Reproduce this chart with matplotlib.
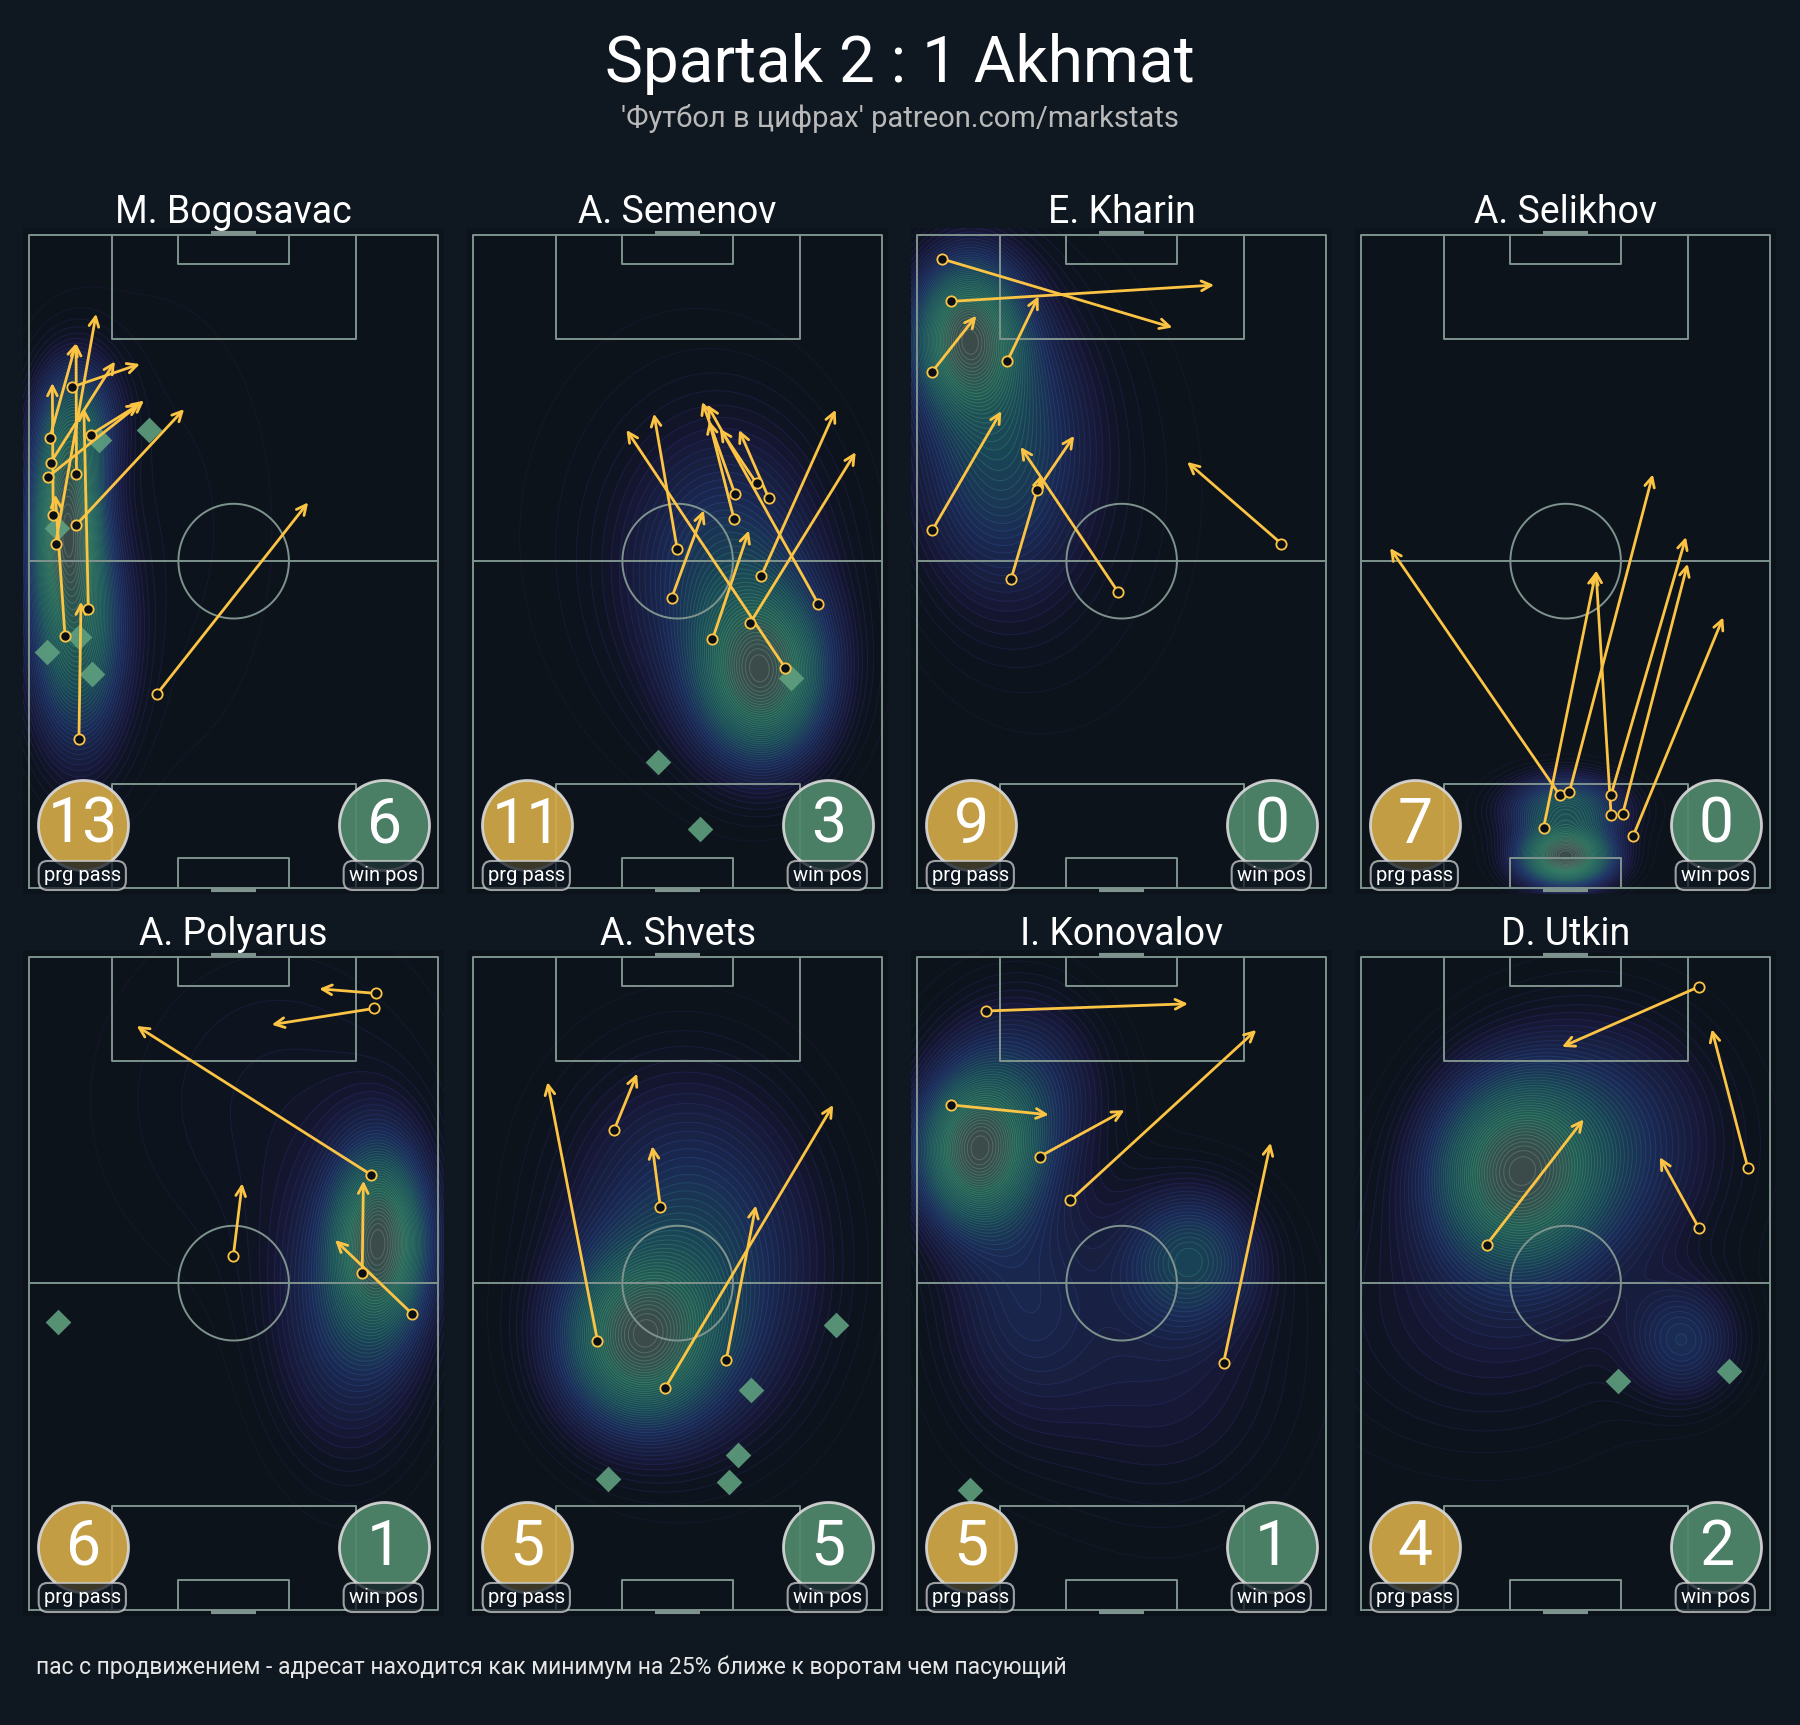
import numpy as np
import matplotlib.pyplot as plt
from matplotlib.colors import LinearSegmentedColormap

plt.rcParams['font.family'] = ['Roboto', 'DejaVu Sans']

# --- data (pitch coords: x = % of width from left, y = % of length from own goal) ---
names = ['M. Bogosavac', 'A. Semenov', 'E. Kharin', 'A. Selikhov',
         'A. Polyarus', 'A. Shvets', 'I. Konovalov', 'D. Utkin']
prg_pass = [13, 11, 9, 7, 6, 5, 5, 4]
win_pos = [6, 3, 0, 0, 1, 5, 1, 2]

# progressive passes: (x0, y0, x1, y1)
passes_bogosavac = [(12.2, 22.7, 12.7, 43.8), (8.8, 38.5, 6.4, 60.2), (14.5, 42.7, 13.4, 73.5),
                    (11.6, 55.6, 37.9, 73.3), (31.2, 29.6, 68.2, 59.0), (15.1, 69.4, 27.1, 74.1),
                    (4.6, 62.9, 28.1, 74.6), (5.3, 65.1, 21.0, 80.6), (10.6, 76.7, 27.1, 80.2),
                    (5.9, 57.1, 5.7, 77.3), (5.1, 68.9, 11.5, 83.4), (11.6, 63.4, 11.5, 83.4),
                    (6.5, 52.7, 16.4, 87.9)]
passes_semenov = [(49.9, 51.8, 44.2, 72.6), (48.5, 44.3, 56.4, 57.8), (58.5, 38.0, 67.4, 54.7),
                  (67.7, 40.5, 93.5, 66.7), (70.4, 47.7, 88.6, 73.2), (84.4, 43.4, 57.2, 74.0),
                  (76.2, 33.7, 37.5, 70.1), (64.0, 60.3, 56.0, 74.4), (63.8, 56.4, 57.7, 71.5),
                  (69.3, 61.9, 60.3, 70.3), (72.3, 59.6, 65.0, 70.1)]
passes_kharin = [(6.1, 96.3, 62.4, 85.8), (8.4, 89.8, 72.6, 92.3), (3.7, 79.0, 14.5, 87.6),
                 (22.1, 80.7, 29.7, 90.6), (3.7, 54.7, 20.6, 73.0), (29.4, 60.9, 38.4, 69.2),
                 (23.0, 47.3, 30.5, 63.3), (49.1, 45.3, 25.3, 67.5), (89.0, 52.7, 66.0, 65.2)]
passes_selikhov = [(48.5, 14.2, 7.1, 52.0), (44.6, 9.1, 57.4, 48.4), (50.9, 14.6, 71.3, 63.3),
                   (61.1, 11.1, 57.4, 48.6), (61.1, 14.2, 79.4, 53.7), (63.9, 11.2, 79.8, 49.6),
                   (66.5, 7.9, 88.5, 41.4)]
passes_polyarus = [(84.7, 94.4, 70.9, 95.1), (84.4, 92.1, 59.3, 89.6), (83.6, 66.6, 26.3, 89.4),
                   (49.9, 54.1, 52.1, 65.3), (81.4, 51.5, 81.7, 65.7), (93.6, 45.3, 74.8, 56.6)]
passes_shvets = [(30.4, 41.2, 18.2, 80.8), (34.5, 73.5, 40.1, 82.1), (45.8, 61.6, 43.8, 71.0),
                 (61.9, 38.3, 69.1, 61.9), (47.0, 34.0, 88.0, 77.3)]
passes_konovalov = [(16.9, 91.7, 66.2, 92.8), (8.4, 77.3, 32.2, 75.8), (30.0, 69.4, 50.7, 76.5),
                    (37.5, 62.7, 82.9, 88.8), (74.9, 37.8, 86.4, 71.5)]
passes_utkin = [(82.5, 95.4, 49.1, 86.2), (94.5, 67.7, 85.7, 88.9), (82.5, 58.5, 73.0, 69.3),
                (30.7, 55.9, 54.4, 75.1)]

# possession wins: (x, y)
wins_bogosavac = [(17.2, 68.6), (29.4, 70.1), (6.9, 55.1), (4.3, 36.1), (12.1, 38.4), (15.3, 32.7)]
wins_semenov = [(77.6, 32.1), (45.3, 19.3), (55.5, 8.9)]
wins_kharin = []
wins_selikhov = []
wins_polyarus = [(7.2, 44.0)]
wins_shvets = [(88.6, 43.6), (67.8, 33.7), (64.8, 23.7), (33.1, 20.0), (62.5, 19.5)]
wins_konovalov = [(13.0, 18.3)]
wins_utkin = [(62.9, 35.0), (90.0, 36.6)]

# touch heat zones: (x, y, spread_x, spread_y, weight)
heat_bogosavac = [(9, 57, 6, 10, 1.0), (12, 38, 8, 12, 0.8), (12, 72, 7, 7, 0.5), (30, 55, 25, 30, 0.08)]
heat_semenov = [(71, 32, 11, 9, 1.0), (62, 48, 16, 14, 0.45), (50, 55, 30, 25, 0.08)]
heat_kharin = [(12, 85, 9, 8, 1.0), (20, 68, 14, 15, 0.55), (35, 60, 25, 25, 0.1)]
heat_selikhov = [(50, 4.5, 8, 3, 1.0), (50, 12, 10, 3.5, 0.6)]
heat_polyarus = [(86, 57, 8, 10, 1.0), (78, 45, 13, 15, 0.4), (60, 78, 30, 20, 0.12)]
heat_shvets = [(40, 41, 13, 9, 1.0), (55, 50, 20, 16, 0.5), (50, 68, 22, 15, 0.18)]
heat_konovalov = [(14, 70, 10, 8, 1.0), (25, 80, 14, 10, 0.4), (67, 54, 11, 7, 0.5),
                  (60, 38, 22, 16, 0.22), (25, 48, 14, 14, 0.3)]
heat_utkin = [(37, 67, 14, 10, 1.0), (58, 72, 20, 13, 0.45), (79, 41, 9, 6, 0.4), (30, 45, 28, 14, 0.2)]

all_passes = [passes_bogosavac, passes_semenov, passes_kharin, passes_selikhov,
              passes_polyarus, passes_shvets, passes_konovalov, passes_utkin]
all_wins = [wins_bogosavac, wins_semenov, wins_kharin, wins_selikhov,
            wins_polyarus, wins_shvets, wins_konovalov, wins_utkin]
all_heat = [heat_bogosavac, heat_semenov, heat_kharin, heat_selikhov,
            heat_polyarus, heat_shvets, heat_konovalov, heat_utkin]

BG = '#0f1821'
PITCH_BG = '#0c131b'
LINE = '#7f938e'
ARROW = '#fcc444'
GOLD = '#d4aa48'
GREEN = '#50886c'
DIAMOND = '#5fa07f'

heat_cmap = LinearSegmentedColormap.from_list(
    'heat', [(0.0, (0.05, 0.08, 0.11, 0.0)), (0.12, '#161733'), (0.3, '#1a2a52'),
             (0.5, '#1a4556'), (0.75, '#235a54'), (1.0, '#3c4a4a')])
line_cmap = LinearSegmentedColormap.from_list(
    'heatlines', [(0.0, (0.1, 0.1, 0.2, 0.0)), (0.12, '#24265a'), (0.3, '#28427a'),
                  (0.5, '#2c7068'), (0.75, '#3f8a6c'), (1.0, '#6a7a72')])

W, H = 1800, 1725
fig = plt.figure(figsize=(18, 17.25), dpi=100, facecolor=BG)

PAD_X, PAD_Y = 1.5, 1.0
PW, PH = 409.3, 652.7


def draw_pitch(ax):
    kw = dict(color=LINE, lw=1.4, zorder=2)
    ax.plot([0, 100, 100, 0, 0], [0, 0, 100, 100, 0], **kw)
    ax.plot([0, 100], [50, 50], **kw)
    for top in (True, False):
        s = -1 if top else 1
        base = 100 if top else 0
        ax.plot([20.2, 20.2, 79.8, 79.8], [base, base + s * 15.9, base + s * 15.9, base], **kw)
        ax.plot([36.5, 36.5, 63.5, 63.5], [base, base + s * 4.45, base + s * 4.45, base], **kw)
        ax.plot([44.5, 55.5], [base - s * 0.35, base - s * 0.35], color=LINE, lw=3, zorder=2,
                solid_capstyle='butt')
    t = np.linspace(0, 2 * np.pi, 200)
    ax.plot(50 + 13.5 * np.cos(t), 50 + 8.79 * np.sin(t), **kw)


gx = np.linspace(-PAD_X, 100 + PAD_X, 220)
gy = np.linspace(-PAD_Y, 100 + PAD_Y, 320)
GX, GY = np.meshgrid(gx, gy)

for i, name in enumerate(names):
    r, c = divmod(i, 4)
    left = 29 + 444 * c
    top = 234.8 + 722 * r
    aw = PW * (100 + 2 * PAD_X) / 100
    ah = PH * (100 + 2 * PAD_Y) / 100
    al = left - PW * PAD_X / 100
    at = top - PH * PAD_Y / 100
    ax = fig.add_axes([al / W, 1 - (at + ah) / H, aw / W, ah / H])
    ax.set_facecolor(PITCH_BG)
    ax.set_xlim(-PAD_X, 100 + PAD_X)
    ax.set_ylim(-PAD_Y, 100 + PAD_Y)
    ax.axis('off')
    ax.add_patch(plt.Rectangle((-PAD_X, -PAD_Y), 100 + 2 * PAD_X, 100 + 2 * PAD_Y,
                               color=PITCH_BG, zorder=0))

    # heat
    Z = np.zeros_like(GX)
    for hx, hy, sx, sy, w in all_heat[i]:
        Z += w * np.exp(-((GX - hx) ** 2 / (2 * sx ** 2) + (GY - hy) ** 2 / (2 * sy ** 2)))
    Z /= Z.max()
    levels = np.linspace(0.03, 1.0, 50)
    ax.contourf(GX, GY, Z, levels=levels, cmap=heat_cmap, zorder=1)
    ax.contour(GX, GY, Z, levels=levels, cmap=line_cmap, linewidths=0.7, alpha=0.65, zorder=1)

    draw_pitch(ax)

    # possession wins
    if all_wins[i]:
        wx, wy = zip(*all_wins[i])
        ax.scatter(wx, wy, marker='D', s=170, color=DIAMOND, alpha=0.9, lw=0, zorder=3)

    # progressive passes
    for x0, y0, x1, y1 in all_passes[i]:
        ax.annotate('', xy=(x1, y1), xytext=(x0, y0),
                    arrowprops=dict(arrowstyle='->,head_length=0.7,head_width=0.35',
                                    color=ARROW, lw=2.0, shrinkA=0, shrinkB=0), zorder=4)
    sx0 = [p[0] for p in all_passes[i]]
    sy0 = [p[1] for p in all_passes[i]]
    ax.scatter(sx0, sy0, s=55, facecolor='#0a0f16', edgecolor=ARROW, lw=1.3, zorder=5)

    # badges
    for bx, val, col, label in [(13.27, prg_pass[i], GOLD, 'prg pass'),
                                (86.8, win_pos[i], GREEN, 'win pos')]:
        ax.scatter([bx], [9.6], s=4200, color=col, alpha=0.92, edgecolor='#d8d8d8',
                   lw=2, zorder=6, clip_on=False)
        ax.text(bx, 6.86, str(val), color='white', fontsize=45, ha='center', va='baseline',
                zorder=7)
        ax.text(bx - 0.25, 1.0, label, color='white', fontsize=14.5, ha='center', va='baseline',
                zorder=8, clip_on=False,
                bbox=dict(boxstyle='round,pad=0.25,rounding_size=0.45', facecolor=BG,
                          alpha=0.75, edgecolor='#cfcfcf', lw=1.5))

    fig.text((left + PW / 2) / W, 1 - (222.7 + 722 * r) / H, name, color='white',
             fontsize=27, ha='center', va='baseline')

fig.text(0.5, 1 - 81.7 / H, 'Spartak 2 : 1 Akhmat', color='white', fontsize=46,
         ha='center', va='baseline')
fig.text(0.5, 1 - 127 / H, "'Футбол в цифрах' patreon.com/markstats", color='#b9b9b9',
         fontsize=21, ha='center', va='baseline')
fig.text(36.5 / W, 1 - 1674 / H,
         'пас с продвижением - адресат находится как минимум на 25% ближе к воротам чем пасующий',
         color='#e6e6e6', fontsize=16.5, ha='left', va='baseline')

fig.savefig('out.png', dpi=100, facecolor=BG)
